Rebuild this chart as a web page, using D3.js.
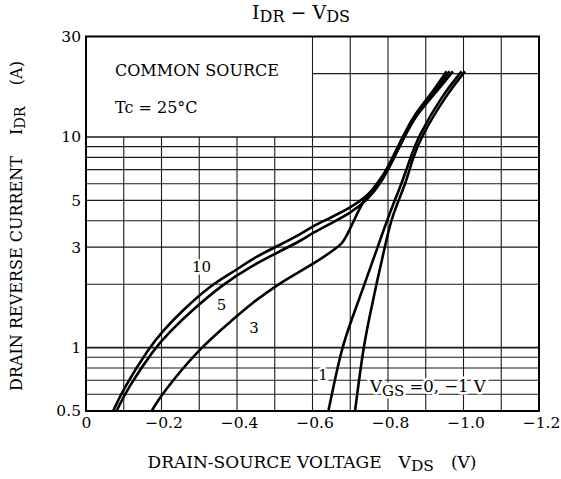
<!DOCTYPE html>
<html>
<head>
<meta charset="utf-8">
<script src="https://cdn.jsdelivr.net/npm/d3@7"></script>
<style>
  body { margin: 0; background: #fff; }
  svg text { font-family: "DejaVu Serif", "Liberation Serif", serif; fill: #000; }
</style>
</head>
<body>
<div id="chart"></div>
<script>

// curves (V in volts, I in amperes)
var v10 = [-0.072, -0.1, -0.168, -0.2, -0.25, -0.333, -0.4, -0.436, -0.514, -0.567, -0.6, -0.65, -0.70, -0.74, -0.779, -0.805, -0.836, -0.867, -0.911, -0.955];
var i10 = [0.5, 0.643, 1.0, 1.18, 1.47, 2.0, 2.34, 2.62, 3.08, 3.44, 3.77, 4.15, 4.61, 5.15, 6.07, 7.55, 9.75, 12.6, 15.7, 20.5];

var v5 = [-0.081, -0.11, -0.183, -0.22, -0.28, -0.363, -0.436, -0.514, -0.567, -0.6, -0.65, -0.70, -0.745, -0.782, -0.81, -0.84, -0.872, -0.916, -0.963];
var i5 = [0.5, 0.64, 1.0, 1.18, 1.5, 2.0, 2.43, 2.87, 3.2, 3.5, 3.9, 4.36, 5.0, 6.07, 7.55, 9.75, 12.6, 15.7, 20.5];

var v3 = [-0.174, -0.2, -0.302, -0.39, -0.434, -0.514, -0.567, -0.62, -0.664, -0.68, -0.69, -0.71, -0.735, -0.775, -0.808, -0.84, -0.872, -0.92, -0.972];
var i3 = [0.5, 0.6, 1.0, 1.36, 1.6, 2.03, 2.3, 2.62, 2.97, 3.15, 3.38, 4.0, 5.05, 6.07, 7.55, 9.75, 12.6, 15.7, 20.5];

var v1 = [-0.642, -0.677, -0.704, -0.739, -0.7735, -0.801, -0.837, -0.858, -0.879, -0.946, -0.995];
var i1 = [0.5, 1.0, 1.36, 2.03, 3.03, 4.2, 6.07, 7.8, 10, 16, 20.5];

var v0 = [-0.7126, -0.7346, -0.7497, -0.770, -0.792, -0.81, -0.848, -0.864, -0.887, -0.956, -1.004];
var i0 = [0.5, 1.0, 1.36, 2.03, 3.03, 4.2, 6.07, 7.8, 10, 16, 20.5];

// axes
var xTicks = [0, -0.2, -0.4, -0.6, -0.8, -1.0, -1.2];
var yTicks = [0.5, 1, 3, 5, 10, 30];
var xGrid = [-0.1, -0.2, -0.3, -0.4, -0.5, -0.6, -0.7, -0.8, -0.9, -1.0, -1.1];
var xGridTop = [-0.6, -0.7, -0.8, -0.9, -1.0, -1.1];
var yGrid = [0.6, 0.7, 0.8, 0.9, 1, 2, 3, 4, 5, 6, 7, 8, 9, 10];
var yGridTop = [20];

var curves = [
	{ name: "10", v: v10, i: i10 },
	{ name: "5", v: v5, i: i5 },
	{ name: "3", v: v3, i: i3 },
	{ name: "1", v: v1, i: i1 },
	{ name: "0", v: v0, i: i0 }
];

var W = 561, H = 479;
var pLeft = 86, pRight = 539, pTop = 36.5, pBottom = 411;

var svg = d3.select("#chart").append("svg")
	.attr("width", W)
	.attr("height", H);

var x = d3.scaleLinear().domain([0, -1.2]).range([pLeft, pRight]);
var y = d3.scaleLog().domain([0.5, 30]).range([pBottom, pTop]);

// grid, lower part
var grid = svg.append("g").attr("stroke", "#1a1a1a").attr("stroke-width", 1.1);
grid.selectAll(".vg").data(xGrid).enter().append("line")
	.attr("x1", function(d) { return x(d); })
	.attr("x2", function(d) { return x(d); })
	.attr("y1", y(10))
	.attr("y2", y(0.5));
grid.selectAll(".hg").data(yGrid).enter().append("line")
	.attr("x1", x(0))
	.attr("x2", x(-1.2))
	.attr("y1", function(d) { return y(d); })
	.attr("y2", function(d) { return y(d); })
	.attr("stroke-width", function(d) { return (d === 10 || d === 1) ? 1.6 : 1.1; });

// grid, upper part (only right side)
grid.selectAll(".vgt").data(xGridTop).enter().append("line")
	.attr("x1", function(d) { return x(d); })
	.attr("x2", function(d) { return x(d); })
	.attr("y1", y(30))
	.attr("y2", y(10));
grid.selectAll(".hgt").data(yGridTop).enter().append("line")
	.attr("x1", x(-0.6))
	.attr("x2", x(-1.2))
	.attr("y1", function(d) { return y(d); })
	.attr("y2", function(d) { return y(d); });

// frame
svg.append("rect")
	.attr("x", pLeft).attr("y", pTop)
	.attr("width", pRight - pLeft).attr("height", pBottom - pTop)
	.attr("fill", "none").attr("stroke", "#000").attr("stroke-width", 2);

// curves
var line = d3.line()
	.x(function(d) { return x(d[0]); })
	.y(function(d) { return y(d[1]); })
	.curve(d3.curveBasis);

svg.append("g").selectAll("path").data(curves).enter().append("path")
	.attr("d", function(c) { return line(d3.zip(c.v, c.i)); })
	.attr("fill", "none")
	.attr("stroke", "#000")
	.attr("stroke-width", 2.6)
	.attr("stroke-linejoin", "round");

// tick labels
var fmt = function(v) { return v === 0 ? "0" : d3.format(".1f")(v); };
var xAxis = svg.append("g")
	.attr("transform", "translate(0," + pBottom + ")")
	.call(d3.axisBottom(x).tickValues(xTicks).tickSize(0).tickPadding(6).tickFormat(fmt));
xAxis.select(".domain").remove();
xAxis.selectAll("text")
	.attr("dx", function(d) { return d === 0 ? 0 : 2; })
	.style("font-family", "DejaVu Serif")
	.style("font-size", "15.5px")
	.attr("fill", "#000");

var yAxis = svg.append("g")
	.attr("transform", "translate(" + pLeft + ",0)")
	.call(d3.axisLeft(y).tickValues(yTicks).tickSize(0).tickPadding(5).tickFormat(d3.format("")));
yAxis.select(".domain").remove();
yAxis.selectAll("text")
	.style("font-family", "DejaVu Serif")
	.style("font-size", "15.5px")
	.attr("fill", "#000");

// title
var title = svg.append("text")
	.attr("x", 301).attr("y", 19)
	.attr("text-anchor", "middle")
	.style("font-size", "19px");
title.append("tspan").text("I");
title.append("tspan").attr("dy", 3).style("font-size", "16px").text("DR");
title.append("tspan").attr("dy", -3).text("  \u2212  V");
title.append("tspan").attr("dy", 3).style("font-size", "16px").text("DS");

// axis titles
var xl = svg.append("text")
	.attr("x", 312).attr("y", 468)
	.attr("text-anchor", "middle")
	.style("font-size", "17px");
xl.append("tspan").text("DRAIN-SOURCE VOLTAGE\u2003V");
xl.append("tspan").attr("dy", 3).style("font-size", "15.5px").text("DS");
xl.append("tspan").attr("dy", -3).text("\u2003(V)");

var yl = svg.append("text")
	.attr("transform", "translate(22,226) rotate(-90)")
	.attr("text-anchor", "middle")
	.style("font-size", "16px");
yl.append("tspan").text("DRAIN REVERSE CURRENT\u2003 I");
yl.append("tspan").attr("dy", 3).style("font-size", "14.5px").text("DR");
yl.append("tspan").attr("dy", -3).text("\u2003 (A)");

// notes
svg.append("text").attr("x", 115).attr("y", 76).style("font-size", "16px").text("COMMON SOURCE");
svg.append("text").attr("x", 115).attr("y", 113).style("font-size", "16px").text("Tc = 25\u00B0C");

// curve labels
var halo = function(sel) {
	return sel.attr("stroke", "#fff").attr("stroke-width", 5)
		.attr("paint-order", "stroke").attr("stroke-linejoin", "round");
};
var labels = [
	{ t: "10", v: -0.306, i: 2.41 },
	{ t: "5", v: -0.359, i: 1.59 },
	{ t: "3", v: -0.445, i: 1.24 },
	{ t: "1", v: -0.628, i: 0.74 }
];
svg.append("g").selectAll("text").data(labels).enter().append("text")
	.attr("x", function(d) { return x(d.v); })
	.attr("y", function(d) { return y(d.i); })
	.attr("dy", "0.35em")
	.attr("text-anchor", "middle")
	.style("font-size", "15px")
	.text(function(d) { return d.t; })
	.call(halo);

var vg = svg.append("text")
	.attr("x", 370).attr("y", 392)
	.style("font-size", "16.5px")
	.call(halo);
vg.append("tspan").text("V");
vg.append("tspan").attr("dy", 4).style("font-size", "15px").text("GS");
vg.append("tspan").attr("dy", -4).text(" =0,  \u22121 V");

</script>
</body>
</html>
